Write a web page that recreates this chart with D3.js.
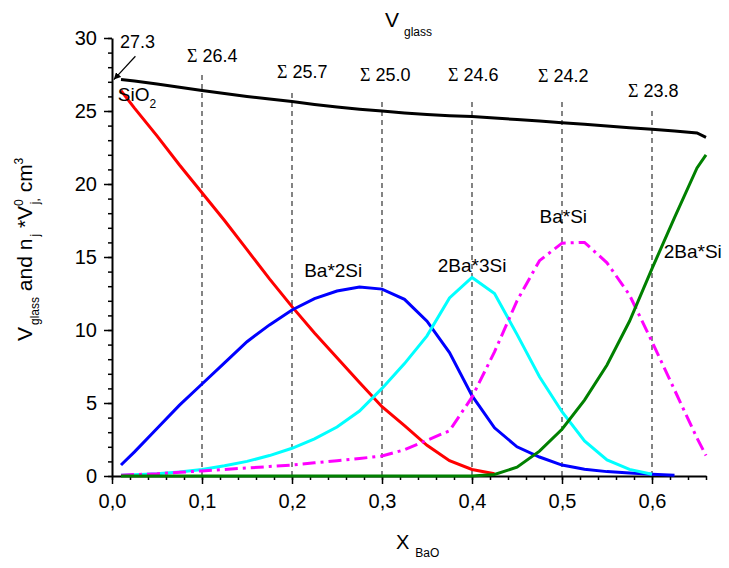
<!DOCTYPE html>
<html><head><meta charset="utf-8">
<script src="https://cdn.jsdelivr.net/npm/d3@7"></script>
<style>
body{margin:0;background:#fff}
svg{display:block;background:#fff}
text{font-family:"Liberation Sans",Arial,sans-serif;fill:#000}
</style>
</head><body>
<svg id="chart" width="729" height="568"></svg>
<script>
// ---------- data ----------
const xBaO = [0.01,0.025,0.05,0.075,0.1,0.125,0.15,0.175,0.2,0.225,0.25,0.275,0.3,0.325,0.35,0.375,0.4,0.425,0.45,0.475,0.5,0.525,0.55,0.575,0.6,0.625,0.65,0.66];
const vGlass = [27.15,27.05,26.85,26.62,26.4,26.2,26.0,25.82,25.65,25.45,25.27,25.12,25.0,24.87,24.76,24.68,24.62,24.52,24.42,24.31,24.2,24.09,23.98,23.86,23.75,23.63,23.5,23.2];
const sio2 = [26.4,25.2,23.3,21.3,19.4,17.5,15.5,13.5,11.6,9.8,8.1,6.4,4.75,3.45,2.1,1.05,0.45,0.15,null,null,null,null,null,null,null,null,null,null];
const ba2si = [0.75,1.65,3.25,4.85,6.3,7.75,9.2,10.35,11.37,12.15,12.67,12.95,12.8,12.1,10.6,8.45,5.5,3.3,2.0,1.3,0.75,0.46,0.3,0.2,0.12,0.05,null,null];
const ba23si = [0.05,0.08,0.15,0.27,0.45,0.7,1.0,1.4,1.9,2.55,3.35,4.45,6.0,7.7,9.6,12.2,13.6,12.5,9.7,6.8,4.4,2.4,1.1,0.45,0.12,null,null,null];
const basi = [0.05,0.1,0.15,0.25,0.35,0.45,0.55,0.65,0.75,0.9,1.05,1.2,1.37,1.8,2.45,3.1,5.4,8.5,12.0,14.75,15.95,16.0,14.6,12.4,9.2,5.9,2.6,1.4];
const ba2siB = [0,0,0,0,0,0,0,0,0,0,0,0,0,0,0,0,0,0.1,0.6,1.7,3.2,5.2,7.6,10.6,14.2,17.7,21.1,22.0];

const sigmaX = [0.1,0.2,0.3,0.4,0.5,0.6];
const sigmaText = ["26.4","25.7","25.0","24.6","24.2","23.8"];
const xTickValues = [0,0.1,0.2,0.3,0.4,0.5,0.6];
const yTickValues = [0,5,10,15,20,25,30];
const curveNames = ["Ba*2Si","2Ba*3Si","Ba*Si","2Ba*Si"];

// ---------- layout ----------
const W = 729, H = 568;
const x = d3.scaleLinear().domain([0,0.66]).range([112,706]);
const y = d3.scaleLinear().domain([0,30]).range([476,38]);
const svg = d3.select("#chart");
const fmt = v => d3.format(".1f")(v).replace(".", ",");

// vertical dashed guide lines + Σ labels (pixel layout per label)
const sigmaLayout = [
  {dx:-15, base:62, top:75},
  {dx:-15, base:78, top:93},
  {dx:-22, base:81, top:102},
  {dx:-24, base:81, top:99},
  {dx:-24, base:82, top:98},
  {dx:-24, base:97, top:107}
];
const g = svg.append("g");
sigmaX.forEach((v,i)=>{
  g.append("line").attr("x1",x(v)).attr("x2",x(v))
    .attr("y1",y(0)).attr("y2",sigmaLayout[i].top)
    .attr("stroke","#333").attr("stroke-width",1.2).attr("stroke-dasharray","5,4");
  const t = g.append("text").attr("x",x(v)+sigmaLayout[i].dx).attr("y",sigmaLayout[i].base)
    .attr("font-size",18);
  t.append("tspan").attr("font-family","'Liberation Serif',serif").text("Σ");
  t.append("tspan").text(" "+sigmaText[i]);
});

// axes
const minorX = d3.range(0,0.6601,0.02);
const minorY = d3.range(0,30.01,1);
const axX = svg.append("g").attr("transform",`translate(0,${y(0)})`);
axX.call(d3.axisBottom(x).tickValues(minorX).tickSize(4).tickSizeOuter(0).tickFormat(""));
axX.call(g2=>g2.select(".domain").remove());
const axX2 = svg.append("g").attr("transform",`translate(0,${y(0)})`)
  .call(d3.axisBottom(x).tickValues(xTickValues).tickSize(8).tickSizeOuter(0).tickPadding(10).tickFormat(fmt));
const axY = svg.append("g").attr("transform",`translate(${x(0)},0)`);
axY.call(d3.axisLeft(y).tickValues(minorY).tickSize(4).tickSizeOuter(0).tickFormat(""));
axY.call(g2=>g2.select(".domain").remove());
const axY2 = svg.append("g").attr("transform",`translate(${x(0)},0)`)
  .call(d3.axisLeft(y).tickValues(yTickValues).tickSize(8).tickSizeOuter(0).tickPadding(7).tickFormat(d3.format("d")));
svg.selectAll(".domain").attr("stroke","#000").attr("stroke-width",2);
svg.selectAll(".tick line").attr("stroke","#000").attr("stroke-width",1.5);
svg.selectAll(".tick text").attr("font-size",20).attr("font-family","'Liberation Sans',Arial,sans-serif").attr("fill","#000");

// curves
const series = [
  {vals:vGlass, color:"#000000", dash:null},
  {vals:sio2, color:"#ff0000", dash:null},
  {vals:ba2si, color:"#0000ff", dash:null},
  {vals:ba23si, color:"#00ffff", dash:null},
  {vals:basi, color:"#ff00ff", dash:"13,5,3,5"},
  {vals:ba2siB, color:"#008000", dash:null}
];
const line = d3.line().defined(d=>d[1]!==null).x(d=>x(d[0])).y(d=>y(d[1]));
series.forEach(s=>{
  const pts = xBaO.map((xv,i)=>[xv,s.vals[i]]);
  svg.append("path").datum(pts).attr("d",line)
    .attr("fill","none").attr("stroke",s.color).attr("stroke-width",3)
    .attr("stroke-linejoin","miter").attr("stroke-dasharray",s.dash);
});

// curve labels (data-unit positions)
const curveLabelPos = [[0.2135,13.6],[0.362,13.95],[0.475,17.3],[0.613,14.9]];
curveNames.forEach((n,i)=>{
  svg.append("text").attr("x",x(curveLabelPos[i][0])).attr("y",y(curveLabelPos[i][1]))
    .attr("font-size",19).text(n);
});

// SiO2 label
const sl = svg.append("text").attr("x",x(0.0065)).attr("y",y(25.7)).attr("font-size",19);
sl.append("tspan").text("SiO");
sl.append("tspan").attr("font-size",12).attr("dy",7).text("2");

// 27.3 annotation with arrow
svg.append("defs").append("marker").attr("id","ah").attr("viewBox","0 0 10 10")
  .attr("refX",10).attr("refY",5).attr("markerWidth",7).attr("markerHeight",7)
  .attr("markerUnits","userSpaceOnUse").attr("orient","auto")
  .append("path").attr("d","M0,0L10,5L0,10z").attr("fill","#000");
svg.append("line").attr("x1",x(0.026)).attr("y1",y(28.75)).attr("x2",x(0.002)).attr("y2",y(27.15))
  .attr("stroke","#000").attr("stroke-width",1.2).attr("marker-end","url(#ah)");
svg.append("text").attr("x",x(0.009)).attr("y",y(29.3)).attr("font-size",18).text("27.3");

// titles
const tt = svg.append("text").attr("x",385).attr("y",27).attr("font-size",21);
tt.append("tspan").text("V");
tt.append("tspan").attr("font-size",12).attr("dx",5).attr("dy",9).text("glass");

const xl = svg.append("text").attr("x",396).attr("y",549).attr("font-size",20);
xl.append("tspan").text("X");
xl.append("tspan").attr("font-size",12).attr("dx",6).attr("dy",8).text("BaO");

const yl = svg.append("text").attr("transform","translate(32,341) rotate(-90)").attr("font-size",21);
yl.append("tspan").text("V");
yl.append("tspan").attr("font-size",12).attr("dx",2).attr("dy",7).text("glass");
yl.append("tspan").attr("dy",-7).text(" and  n");
yl.append("tspan").attr("font-size",12).attr("dx",2).attr("dy",7).text("j");
yl.append("tspan").attr("dy",-7).text(" *V");
yl.append("tspan").attr("font-size",12).attr("dy",-9).text("0");
yl.append("tspan").attr("font-size",12).attr("dx",-5).attr("dy",16).text("j,");
yl.append("tspan").attr("dy",-7).text("  cm");
yl.append("tspan").attr("font-size",12).attr("dy",-9).text("3");
</script>
</body></html>
